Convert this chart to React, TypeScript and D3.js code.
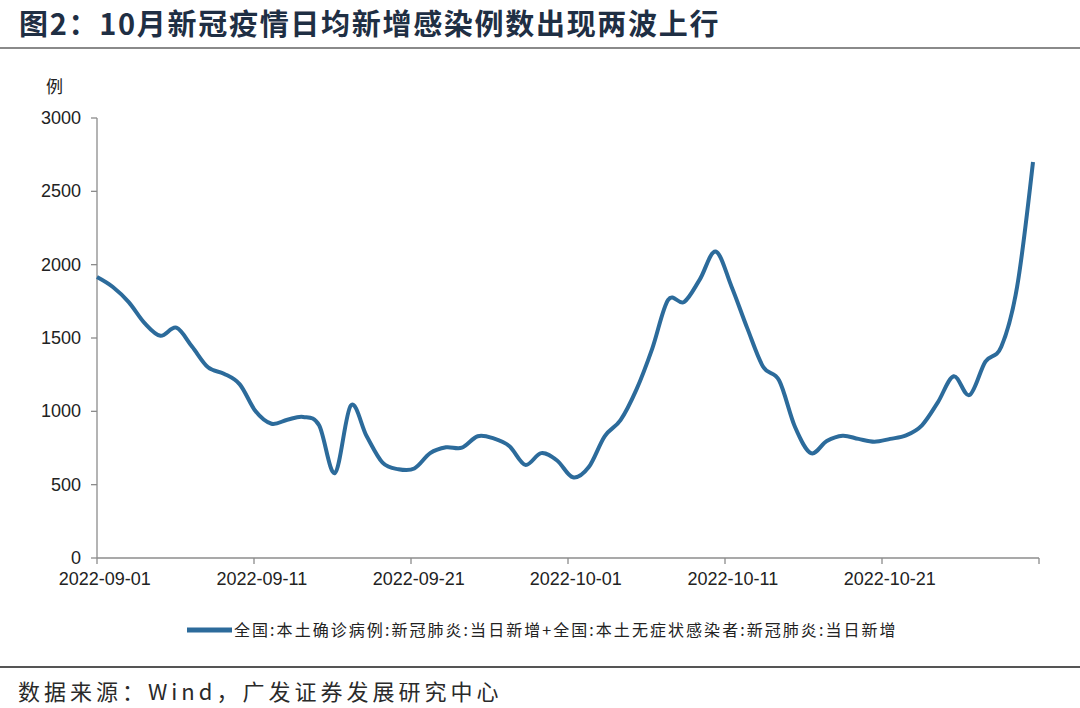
import React from "react";
import * as d3 from "d3";

const startDate = "2022-09-01";
const dailyValues: number[] = [
  1916, 1848, 1745, 1602, 1515, 1570, 1440, 1300, 1257, 1184,
  1000, 915, 943, 962, 905, 580, 1040, 830, 650, 605,
  610, 715, 755, 752, 830, 815, 762, 635, 715, 665,
  550, 620, 830, 940, 1148, 1428, 1760, 1745, 1900, 2090,
  1850, 1564, 1302, 1210, 893, 715, 798, 834, 812, 793,
  812, 836, 905, 1061, 1239, 1111, 1339, 1440, 1850, 2700,
];
const yTicks: number[] = [0, 500, 1000, 1500, 2000, 2500, 3000];
const xTickDates: string[] = [
  "2022-09-01", "2022-09-11", "2022-09-21", "2022-10-01",
  "2022-10-11", "2022-10-21", "2022-10-31",
];
const xLabelDates: string[] = [
  "2022-09-01", "2022-09-11", "2022-09-21", "2022-10-01",
  "2022-10-11", "2022-10-21",
];
const title = "图2：10月新冠疫情日均新增感染例数出现两波上行";
const unitLabel = "例";
const legendLabel =
  "全国:本土确诊病例:新冠肺炎:当日新增+全国:本土无症状感染者:新冠肺炎:当日新增";
const sourceText = "数据来源：Wind，广发证券发展研究中心";

const parse = d3.utcParse("%Y-%m-%d");
const DAY = 86400000;

export default function App() {
  const W = 1080;
  const H = 708;
  const plotLeft = 97;
  const plotTop = 118;
  const plotBottom = 558;

  const t0 = parse(startDate)!;
  const points = dailyValues.map((v, i) => ({
    date: new Date(t0.getTime() + i * DAY),
    value: v,
  }));
  const lastDate = points[points.length - 1].date;

  // axis scale: 2022-09-01 .. 2022-10-31
  const xAxis = d3
    .scaleUtc()
    .domain([parse("2022-09-01")!, parse("2022-10-31")!])
    .range([plotLeft, 1039]);
  // series scale
  const x = d3.scaleUtc().domain([t0, lastDate]).range([plotLeft, 1033]);
  const y = d3.scaleLinear().domain([0, 3000]).range([plotBottom, plotTop]);

  const line = d3
    .line<{ date: Date; value: number }>()
    .x((d) => x(d.date))
    .y((d) => y(d.value))
    .curve(d3.curveCardinal.tension(0));

  const axisColor = "#8c8c8c";
  const textColor = "#222";
  const latin = "'Liberation Sans', Arial, sans-serif";
  const cjk = "'Noto Sans CJK SC', 'Noto Sans', sans-serif";
  const halfDay = xAxis(new Date(t0.getTime() + DAY / 2)) - xAxis(t0);

  return (
    <svg
      width={W}
      height={H}
      viewBox={`0 0 ${W} ${H}`}
      style={{ position: "absolute", left: 0, top: 0, background: "#fff" }}
    >
      <rect x={0} y={0} width={W} height={H} fill="#fff" />
      {/* title */}
      <text
        x={19}
        y={35}
        fontFamily={cjk}
        fontSize={29}
        fontWeight={700}
        fill="#1f2f44"
        letterSpacing={1.7}
      >
        {title}
      </text>
      <line x1={0} x2={W} y1={48} y2={48} stroke="#8a8a8a" strokeWidth={2} />

      {/* unit */}
      <text x={46} y={93} fontFamily={cjk} fontSize={17} fill={textColor}>
        {unitLabel}
      </text>

      {/* y axis */}
      <line
        x1={plotLeft}
        x2={plotLeft}
        y1={y(3000)}
        y2={y(0)}
        stroke={axisColor}
        strokeWidth={1.3}
      />
      {yTicks.map((t) => (
        <g key={t}>
          <line
            x1={plotLeft - 6}
            x2={plotLeft}
            y1={y(t)}
            y2={y(t)}
            stroke={axisColor}
            strokeWidth={1.3}
          />
          <text
            x={81}
            y={y(t)}
            textAnchor="end"
            dominantBaseline="central"
            fontFamily={latin}
            fontSize={18}
            fill={textColor}
          >
            {t}
          </text>
        </g>
      ))}

      {/* x axis */}
      <line
        x1={plotLeft}
        x2={xAxis(parse("2022-10-31")!)}
        y1={plotBottom}
        y2={plotBottom}
        stroke={axisColor}
        strokeWidth={1.3}
      />
      {xTickDates.map((s) => (
        <line
          key={s}
          x1={xAxis(parse(s)!)}
          x2={xAxis(parse(s)!)}
          y1={plotBottom}
          y2={plotBottom + 6}
          stroke={axisColor}
          strokeWidth={1.3}
        />
      ))}
      {xLabelDates.map((s) => (
        <text
          key={s}
          x={xAxis(parse(s)!) + halfDay}
          y={585}
          textAnchor="middle"
          fontFamily={latin}
          fontSize={18}
          fill={textColor}
        >
          {s}
        </text>
      ))}

      {/* series */}
      <path
        d={line(points) || ""}
        fill="none"
        stroke="#2c6b9b"
        strokeWidth={4}
        strokeLinejoin="round"
      />

      {/* legend */}
      <line x1={187} x2={232} y1={630} y2={630} stroke="#2c6b9b" strokeWidth={5} />
      <text
        x={234}
        y={636}
        fontFamily={cjk}
        fontSize={16}
        fill={textColor}
        letterSpacing={2.05}
      >
        {legendLabel}
      </text>

      {/* footer */}
      <line x1={0} x2={W} y1={667} y2={667} stroke="#555" strokeWidth={2} />
      <text
        x={18}
        y={700}
        fontFamily={cjk}
        fontSize={22}
        fill="#2a2a2a"
        letterSpacing={4}
      >
        {sourceText}
      </text>
    </svg>
  );
}
